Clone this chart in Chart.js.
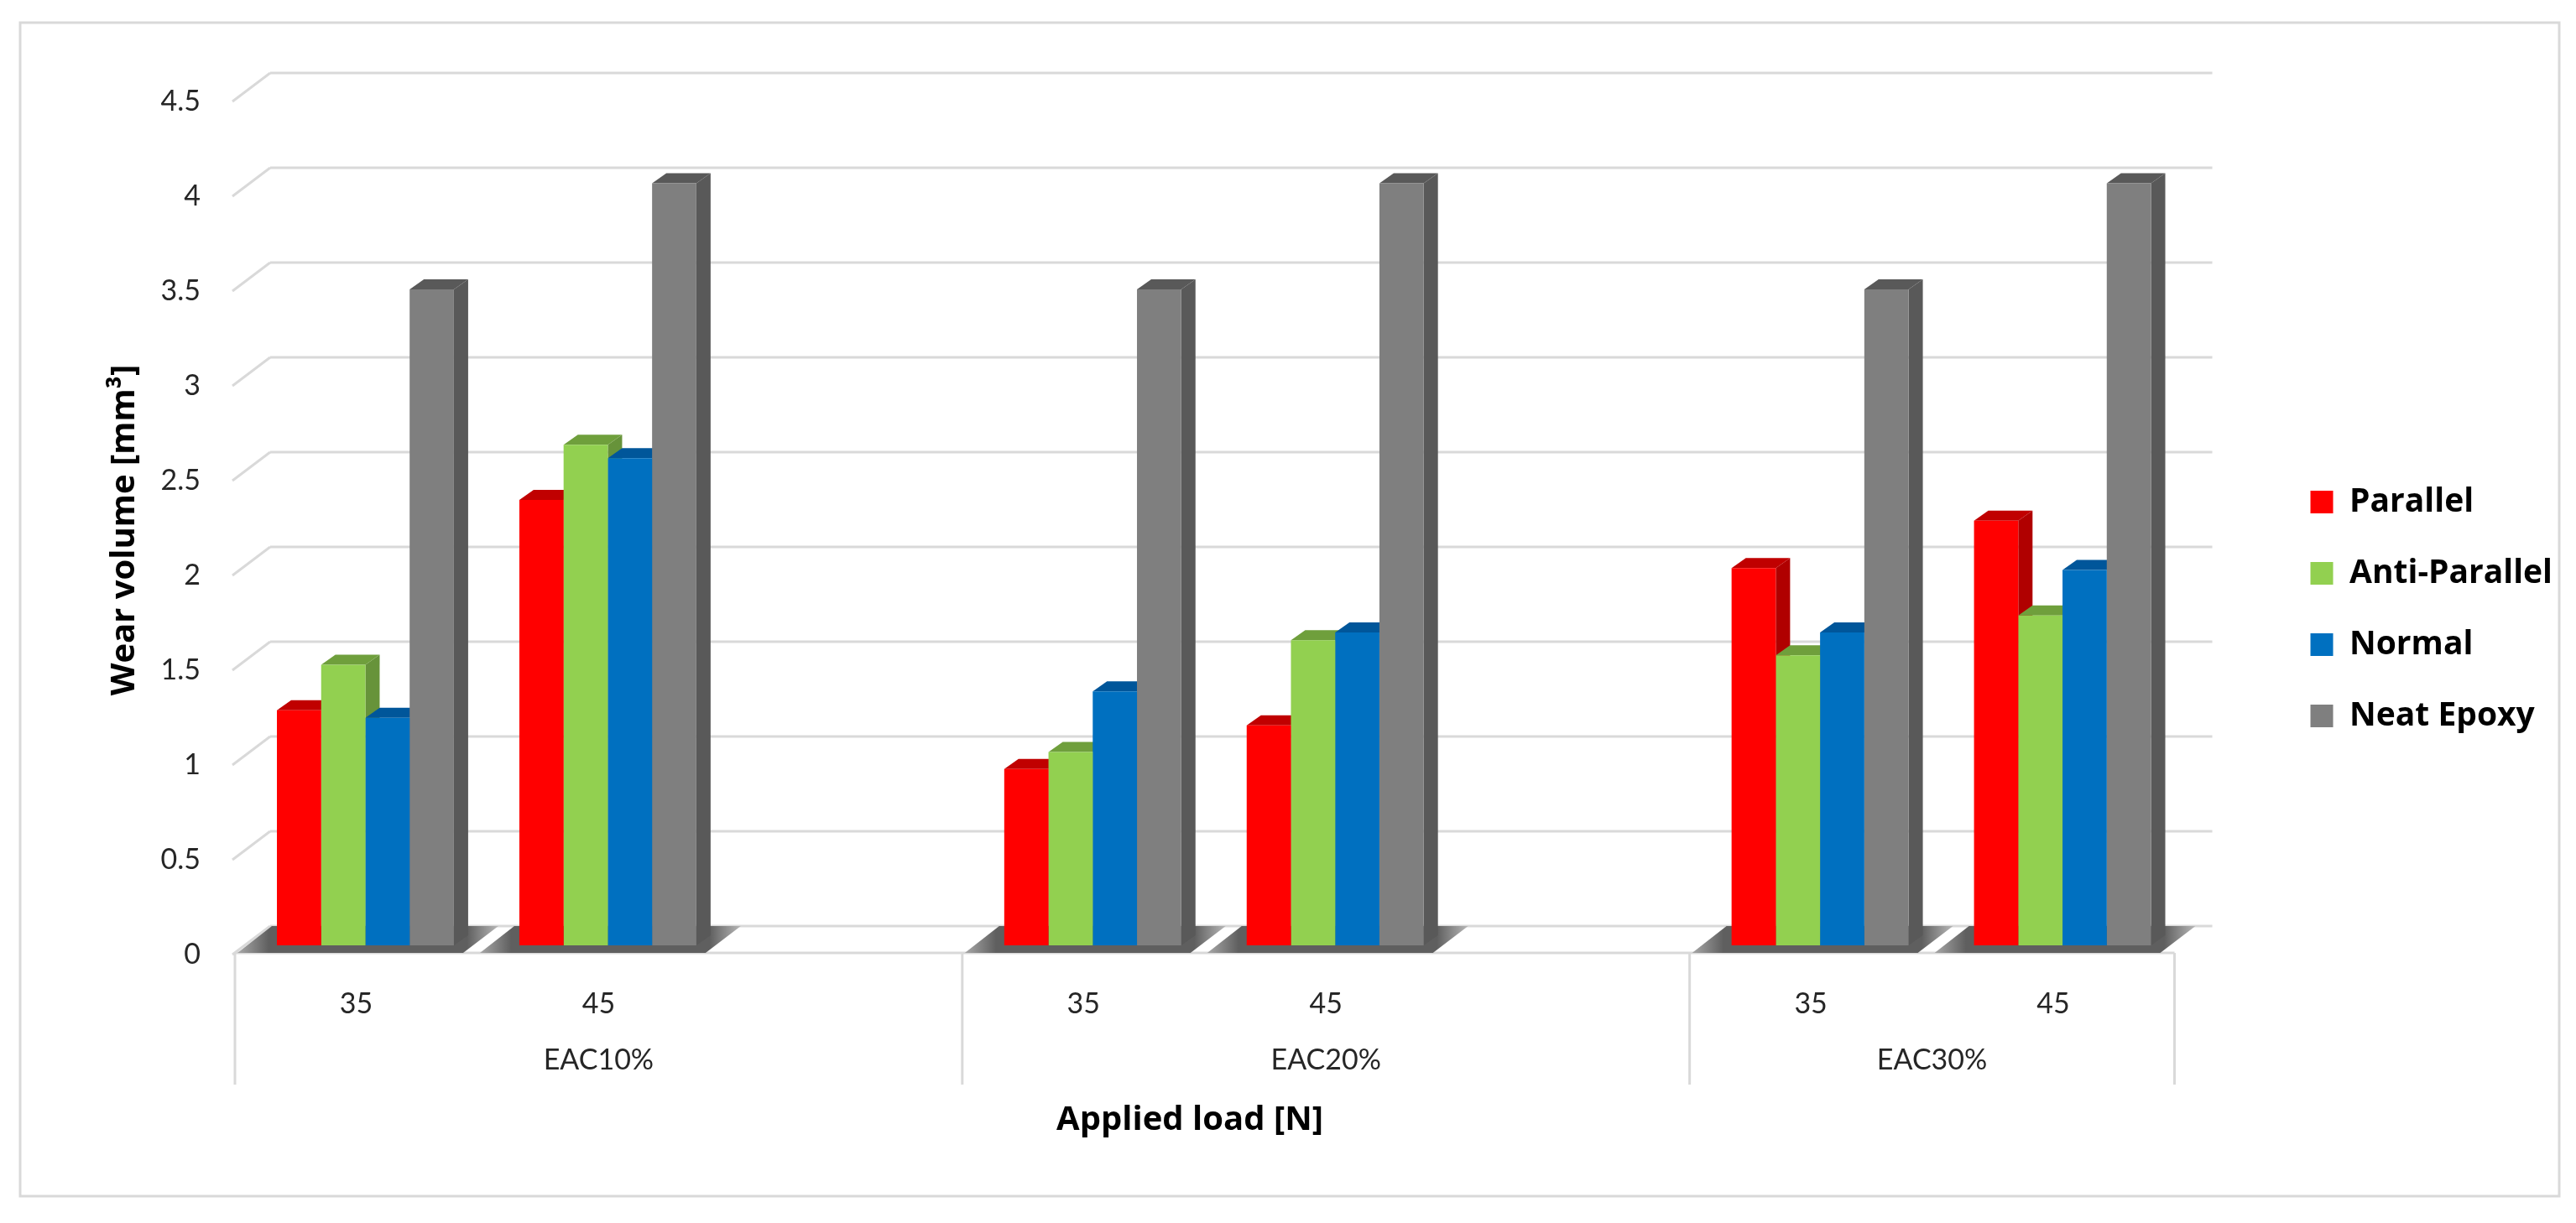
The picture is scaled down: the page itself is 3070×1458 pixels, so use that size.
<!DOCTYPE html>
<html>
<head>
<meta charset="utf-8">
<style>
  html, body { margin: 0; padding: 0; background: #fff; }
  canvas { display: block; }
</style>
<script src="https://cdn.jsdelivr.net/npm/chart.js@4/dist/chart.umd.min.js"></script>
</head>
<body>
<canvas id="wearChart" width="3070" height="1458"></canvas>
<script>
const loads = ['35', '45', '', '35', '45', '', '35', '45'];
const yTicks = [0, 0.5, 1, 1.5, 2, 2.5, 3, 3.5, 4, 4.5];

const parallel     = [1.24, 2.35, null, 0.93, 1.16, null, 1.99, 2.24];
const antiParallel = [1.48, 2.64, null, 1.02, 1.61, null, 1.53, 1.74];
const normal       = [1.20, 2.57, null, 1.34, 1.65, null, 1.65, 1.98];
const neatEpoxy    = [3.46, 4.02, null, 3.46, 4.02, null, 3.46, 4.02];

const seriesNames = ['Parallel', 'Anti-Parallel', 'Normal', 'Neat Epoxy'];
const frontColors = ['#ff0000', '#92d050', '#0070c0', '#7f7f7f'];
const topColors = ['#c00000', '#6f9f3c', '#00569a', '#595959'];
const sideColors = ['#b00000', '#67933a', '#004f8c', '#595959'];

// category groups below the load labels: [name, first slot, slots]
const groupNames = ['EAC10%', 'EAC20%', 'EAC30%'];
const groupStarts = [0, 3, 6];
const groupSpans = [3, 3, 2];

const textFont = 'Lato, "Open Sans", sans-serif';
const boldFont = '"Open Sans", Lato, sans-serif';
const gridColor = '#d9d9d9';

// the 3d look: offsets from the plane the bar fronts stand on
const wall = { dx: 34, dy: -23 };   // back wall
const edge = { dx: -11, dy: 9 };    // front edge of the floor
const barDepth = { dx: 17, dy: -12 };

function polygon(ctx, pts, fill) {
    ctx.beginPath();
    pts.forEach((p, i) => i ? ctx.lineTo(p[0], p[1]) : ctx.moveTo(p[0], p[1]));
    ctx.closePath();
    ctx.fillStyle = fill;
    ctx.fill();
}

function line(ctx, x1, y1, x2, y2) {
    ctx.beginPath();
    ctx.moveTo(x1, y1);
    ctx.lineTo(x2, y2);
    ctx.stroke();
}

const chart3d = {
    id: 'chart3d',
    beforeDraw(chart) {
        const ctx = chart.ctx;
        ctx.save();
        ctx.strokeStyle = gridColor;
        ctx.lineWidth = 3;
        ctx.strokeRect(24, 27, 3026, 1399);
        ctx.restore();
    },
    beforeDatasetsDraw(chart) {
        const ctx = chart.ctx;
        const x = chart.scales.x;
        const y = chart.scales.y;
        const slot = x.width / loads.length;
        const left = x.left;
        const right = x.right;
        ctx.save();

        // walls
        ctx.strokeStyle = gridColor;
        ctx.lineWidth = 3;
        yTicks.forEach(v => {
            const py = y.getPixelForValue(v);
            line(ctx, left - 14, py + 11, left + wall.dx - 3, py + wall.dy);
            line(ctx, left + wall.dx - 3, py + wall.dy, right + wall.dx, py + wall.dy);
        });
        const floorY = y.getPixelForValue(0) + edge.dy;
        line(ctx, left + edge.dx, floorY, right + edge.dx, floorY);

        // separators of the category groups
        groupStarts.forEach(s => {
            const sx = left + edge.dx + s * slot;
            line(ctx, sx, floorY, sx, 1293);
        });
        line(ctx, right + edge.dx, floorY, right + edge.dx, 1293);

        // floor shadow under each pair of bars
        const first = chart.getDatasetMeta(0).data;
        const last = chart.getDatasetMeta(seriesNames.length - 1).data;
        const base = y.getPixelForValue(0);
        loads.forEach((name, j) => {
            if (!name) return;
            const l = first[j].x - first[j].width / 2;
            const r = last[j].x + last[j].width / 2;
            const grad = ctx.createLinearGradient(l - 47, 0, r + 53, 0);
            grad.addColorStop(0, '#a8a8a8');
            grad.addColorStop(0.12, '#5f5f5f');
            grad.addColorStop(0.88, '#5f5f5f');
            grad.addColorStop(1, '#b8b8b8');
            polygon(ctx, [
                [l - 47, base + edge.dy],
                [l - 6, base + wall.dy],
                [r + 53, base + wall.dy],
                [r + 11, base + edge.dy]
            ], grad);
        });

        // top and side faces, left to right; the native fronts go over them
        loads.forEach((name, j) => {
            seriesNames.forEach((s, i) => {
                const bar = chart.getDatasetMeta(i).data[j];
                if (!name) return;
                const l = bar.x - bar.width / 2;
                const r = bar.x + bar.width / 2;
                const t = bar.y;
                const d = barDepth;
                polygon(ctx, [[r, t], [r + d.dx, t + d.dy], [r + d.dx, bar.base + d.dy], [r, bar.base]], sideColors[i]);
                polygon(ctx, [[l, t], [l + d.dx, t + d.dy], [r + d.dx, t + d.dy], [r, t]], topColors[i]);
            });
        });
        ctx.restore();
    },
    afterDraw(chart) {
        const ctx = chart.ctx;
        const x = chart.scales.x;
        const slot = x.width / loads.length;
        ctx.save();
        ctx.textAlign = 'center';
        ctx.textBaseline = 'middle';
        ctx.fillStyle = '#262626';
        ctx.font = '34px ' + textFont;
        groupNames.forEach((g, i) => {
            const cx = x.left + edge.dx + (groupStarts[i] + groupSpans[i] / 2) * slot;
            ctx.fillText(g, cx, 1264);
        });
        ctx.fillStyle = '#000';
        ctx.font = 'bold 40px ' + boldFont;
        ctx.fillText('Applied load [N]', 1418, 1336);
        ctx.translate(149, 632);
        ctx.rotate(-Math.PI / 2);
        ctx.fillText('Wear volume [mm³]', 0, 0);
        ctx.restore();
    }
};

new Chart(document.getElementById('wearChart').getContext('2d'), {
    type: 'bar',
    plugins: [chart3d],
    data: {
        labels: loads,
        datasets: [
            { label: seriesNames[0], data: parallel, backgroundColor: frontColors[0] },
            { label: seriesNames[1], data: antiParallel, backgroundColor: frontColors[1] },
            { label: seriesNames[2], data: normal, backgroundColor: frontColors[2] },
            { label: seriesNames[3], data: neatEpoxy, backgroundColor: frontColors[3] }
        ]
    },
    options: {
        responsive: false,
        devicePixelRatio: 1,
        animation: false,
        categoryPercentage: 0.73,
        barPercentage: 1,
        layout: { padding: { left: 0, right: 18, top: 110, bottom: 116 } },
        scales: {
            x: {
                afterFit(s) { s.height = 215; },
                grid: { display: false },
                border: { display: false },
                ticks: {
                    autoSkip: false, maxRotation: 0, padding: 42, labelOffset: -11,
                    color: '#262626', font: { family: textFont, size: 34 }
                }
            },
            y: {
                min: 0,
                max: 4.5,
                afterFit(s) { s.width = 291; },
                afterBuildTicks(s) { s.ticks = yTicks.map(v => ({ value: v })); },
                grid: { display: false, drawTicks: false },
                border: { display: false },
                ticks: {
                    padding: 52, labelOffset: 11,
                    callback: v => String(v),
                    color: '#262626', font: { family: textFont, size: 34 }
                }
            },
            // keeps the gap between the plot and the legend
            gap: {
                position: 'right',
                afterFit(s) { s.width = 105; },
                grid: { display: false },
                border: { display: false },
                ticks: { display: false }
            }
        },
        plugins: {
            tooltip: { enabled: false },
            legend: {
                position: 'right',
                labels: {
                    boxWidth: 27, boxHeight: 27, padding: 46,
                    color: '#000', font: { family: boldFont, size: 39, weight: 'bold' }
                }
            }
        }
    }
});
</script>
</body>
</html>
